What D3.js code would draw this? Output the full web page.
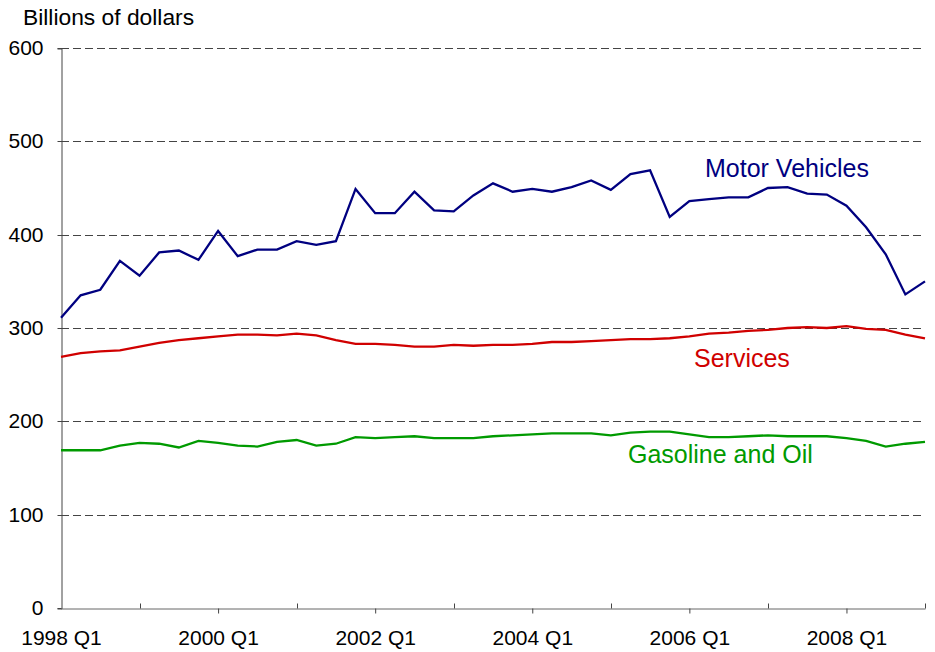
<!DOCTYPE html>
<html>
<head>
<meta charset="utf-8">
<script src="https://cdn.jsdelivr.net/npm/d3@7"></script>
<style>
  body { margin: 0; background: #fff; }
  text { font-family: "Liberation Sans", Arial, sans-serif; }
</style>
</head>
<body>
<div id="chart"></div>
<script>
// Chart size and plot box.
const WIDTH = 935;
const HEIGHT = 652;
const M = { left: 61, right: 10, top: 48, bottom: 44 };

// Quarterly categories, 1998 Q1 .. 2009 Q1.
const quarters = [
  "1998 Q1", "1998 Q2", "1998 Q3", "1998 Q4",
  "1999 Q1", "1999 Q2", "1999 Q3", "1999 Q4",
  "2000 Q1", "2000 Q2", "2000 Q3", "2000 Q4",
  "2001 Q1", "2001 Q2", "2001 Q3", "2001 Q4",
  "2002 Q1", "2002 Q2", "2002 Q3", "2002 Q4",
  "2003 Q1", "2003 Q2", "2003 Q3", "2003 Q4",
  "2004 Q1", "2004 Q2", "2004 Q3", "2004 Q4",
  "2005 Q1", "2005 Q2", "2005 Q3", "2005 Q4",
  "2006 Q1", "2006 Q2", "2006 Q3", "2006 Q4",
  "2007 Q1", "2007 Q2", "2007 Q3", "2007 Q4",
  "2008 Q1", "2008 Q2", "2008 Q3", "2008 Q4",
  "2009 Q1",
];

// Billions of dollars.
const motorVehicles = [
  311, 335, 341, 372, 356, 381, 383, 373, 404, 377, 384, 384, 393, 389, 393,
  449, 423, 423, 446, 426, 425, 442, 455, 446, 449, 446, 451, 458, 448, 465,
  469, 419, 436, 438, 440, 440, 450, 451, 444, 443, 431, 408, 379, 336, 350,
];
const services = [
  269, 273, 275, 276, 280, 284, 287, 289, 291, 293, 293, 292, 294, 292, 287,
  283, 283, 282, 280, 280, 282, 281, 282, 282, 283, 285, 285, 286, 287, 288,
  288, 289, 291, 294, 295, 297, 298, 300, 301, 300, 302, 299, 298, 293, 289,
];
const gasolineOil = [
  169, 169, 169, 174, 177, 176, 172, 179, 177, 174, 173, 178, 180, 174, 176,
  183, 182, 183, 184, 182, 182, 182, 184, 185, 186, 187, 187, 187, 185, 188,
  189, 189, 186, 183, 183, 184, 185, 184, 184, 184, 182, 179, 173, 176, 178,
];

const yTicks = [0, 100, 200, 300, 400, 500, 600];
// Labelled ticks every other year; plain ticks in between.
const xLabelTicks = ["1998 Q1", "2000 Q1", "2002 Q1", "2004 Q1", "2006 Q1", "2008 Q1"];
const xPlainTicks = ["1999 Q1", "2001 Q1", "2003 Q1", "2005 Q1", "2007 Q1", "2009 Q1"];

const series = [
  { name: "Motor Vehicles", values: motorVehicles, color: "#000080", lx: 705, ly: 177 },
  { name: "Services", values: services, color: "#d00000", lx: 694, ly: 367 },
  { name: "Gasoline and Oil", values: gasolineOil, color: "#009a00", lx: 628, ly: 463 },
];

const svg = d3
  .select("#chart")
  .append("svg")
  .attr("width", WIDTH)
  .attr("height", HEIGHT);

const x = d3
  .scalePoint()
  .domain(quarters)
  .range([M.left, WIDTH - M.right]);

const y = d3
  .scaleLinear()
  .domain([0, 600])
  .range([HEIGHT - M.bottom, M.top]);

// Dashed gridlines.
svg
  .append("g")
  .selectAll("line")
  .data(yTicks.filter((d) => d > 0))
  .enter()
  .append("line")
  .attr("x1", M.left)
  .attr("x2", WIDTH - M.right)
  .attr("y1", (d) => Math.round(y(d)) + 0.5)
  .attr("y2", (d) => Math.round(y(d)) + 0.5)
  .attr("stroke", "#444")
  .attr("stroke-dasharray", "8,4");

// Y axis.
const yAxis = svg
  .append("g")
  .attr("transform", "translate(" + (M.left + 0.5) + ",0.5)")
  .call(d3.axisLeft(y).tickValues(yTicks).tickSize(4).tickPadding(14));
yAxis.select(".domain").attr("stroke", "#444");
yAxis.selectAll(".tick line").attr("stroke", "#444");
yAxis
  .selectAll("text")
  .attr("font-size", 21)
  .attr("font-family", '"Liberation Sans", Arial, sans-serif')
  .attr("fill", "#000");
yAxis.selectAll(".tick").attr("transform", (d) => "translate(0," + Math.round(y(d)) + ")");

// X axis: labelled ticks point down, the others point up.
const baseY = Math.round(y(0)) + 0.5;
const xAxis = svg
  .append("g")
  .attr("transform", "translate(0," + baseY + ")")
  .call(d3.axisBottom(x).tickValues(xLabelTicks).tickSize(5).tickSizeOuter(0).tickPadding(17));
xAxis.select(".domain").attr("stroke", "#666");
xAxis.selectAll(".tick line").attr("stroke", "#444");
xAxis.selectAll(".tick").filter((d) => d === "1998 Q1").select("line").remove();
xAxis
  .selectAll("text")
  .attr("font-size", 21)
  .attr("font-family", '"Liberation Sans", Arial, sans-serif')
  .attr("fill", "#000");

svg
  .append("g")
  .selectAll("line")
  .data(xPlainTicks)
  .enter()
  .append("line")
  .attr("x1", (d) => Math.round(x(d)) + 0.5)
  .attr("x2", (d) => Math.round(x(d)) + 0.5)
  .attr("y1", baseY)
  .attr("y2", baseY - 5)
  .attr("stroke", "#444");

// Axis title.
svg
  .append("text")
  .attr("x", 23)
  .attr("y", 25)
  .attr("font-size", 22.8)
  .text("Billions of dollars");

// Series lines.
const line = d3
  .line()
  .x((d, i) => x(quarters[i]))
  .y((d) => y(d));

svg
  .append("g")
  .selectAll("path")
  .data(series)
  .enter()
  .append("path")
  .attr("d", (d) => line(d.values))
  .attr("fill", "none")
  .attr("stroke", (d) => d.color)
  .attr("stroke-width", 2.3)
  .attr("stroke-linejoin", "miter");

// Series labels.
svg
  .append("g")
  .selectAll("text")
  .data(series)
  .enter()
  .append("text")
  .attr("x", (d) => d.lx)
  .attr("y", (d) => d.ly)
  .attr("font-size", 25)
  .attr("fill", (d) => d.color)
  .text((d) => d.name);
</script>
</body>
</html>
